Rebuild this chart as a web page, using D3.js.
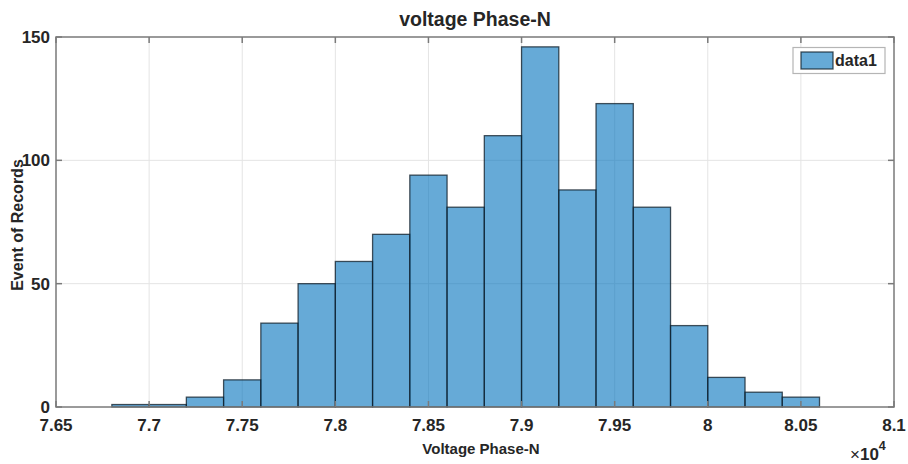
<!DOCTYPE html>
<html lang="en">
<head>
  <meta charset="UTF-8">
  <title>voltage Phase-N</title>
  <script src="https://d3js.org/d3.v7.min.js"></script>
  <style>
    body {
      margin: 0;
      background: white;
      font-family: "Liberation Sans", Arial, Helvetica, sans-serif;
    }
    svg text {
      fill: #262626;
      font-weight: bold;
    }
  </style>
</head>
<body>
<svg width="908" height="464"></svg>

<script>
  // histogram bins (values shown in units of 10^4)
  const binStarts = [7.68, 7.70, 7.72, 7.74, 7.76, 7.78, 7.80, 7.82, 7.84, 7.86,
                     7.88, 7.90, 7.92, 7.94, 7.96, 7.98, 8.00, 8.02, 8.04];
  const binEnds   = [7.70, 7.72, 7.74, 7.76, 7.78, 7.80, 7.82, 7.84, 7.86, 7.88,
                     7.90, 7.92, 7.94, 7.96, 7.98, 8.00, 8.02, 8.04, 8.06];
  const counts    = [1, 1, 4, 11, 34, 50, 59, 70, 94, 81,
                     110, 146, 88, 123, 81, 33, 12, 6, 4];

  const xTicks = [7.65, 7.7, 7.75, 7.8, 7.85, 7.9, 7.95, 8, 8.05, 8.1];
  const xTickLabels = ["7.65", "7.7", "7.75", "7.8", "7.85", "7.9", "7.95", "8", "8.05", "8.1"];
  const yTicks = [0, 50, 100, 150];
  const yTickLabels = ["0", "50", "100", "150"];

  const bins = binStarts.map((s, i) => ({ x0: s, x1: binEnds[i], count: counts[i] }));

  const svg = d3.select("svg");
  const plotLeft = 56, plotRight = 894, plotTop = 37, plotBottom = 407;

  const x = d3.scaleLinear().domain([7.65, 8.1]).range([plotLeft, plotRight]);
  const y = d3.scaleLinear().domain([0, 150]).range([plotBottom, plotTop]);

  const tickLen = 6;
  const barColor = "#0072BD";

  // grid
  const grid = svg.append("g").attr("stroke", "#e4e4e4").attr("stroke-width", 1);
  grid.selectAll(".gx").data(xTicks.slice(1, -1)).enter().append("line")
    .attr("x1", d => x(d)).attr("x2", d => x(d))
    .attr("y1", plotTop).attr("y2", plotBottom);
  grid.selectAll(".gy").data(yTicks.slice(1, -1)).enter().append("line")
    .attr("x1", plotLeft).attr("x2", plotRight)
    .attr("y1", d => y(d)).attr("y2", d => y(d));

  // bars
  svg.append("g").selectAll("rect").data(bins).enter().append("rect")
    .attr("x", d => x(d.x0))
    .attr("width", d => x(d.x1) - x(d.x0))
    .attr("y", d => y(d.count))
    .attr("height", d => y(0) - y(d.count))
    .attr("fill", barColor)
    .attr("fill-opacity", 0.6)
    .attr("stroke", "#0d1b26")
    .attr("stroke-opacity", 0.75)
    .attr("stroke-width", 1.3);

  // axes box + ticks
  const axisG = svg.append("g").attr("stroke", "#7a7a7a").attr("stroke-width", 1.5).attr("fill", "none");
  axisG.append("rect")
    .attr("x", plotLeft).attr("y", plotTop)
    .attr("width", plotRight - plotLeft).attr("height", plotBottom - plotTop);

  axisG.selectAll(".tb").data(xTicks).enter().append("line")
    .attr("x1", d => x(d)).attr("x2", d => x(d))
    .attr("y1", plotBottom).attr("y2", plotBottom - tickLen);
  axisG.selectAll(".tt").data(xTicks).enter().append("line")
    .attr("x1", d => x(d)).attr("x2", d => x(d))
    .attr("y1", plotTop).attr("y2", plotTop + tickLen);
  axisG.selectAll(".tl").data(yTicks).enter().append("line")
    .attr("x1", plotLeft).attr("x2", plotLeft + tickLen)
    .attr("y1", d => y(d)).attr("y2", d => y(d));
  axisG.selectAll(".tr").data(yTicks).enter().append("line")
    .attr("x1", plotRight).attr("x2", plotRight - tickLen)
    .attr("y1", d => y(d)).attr("y2", d => y(d));

  // tick labels
  svg.append("g").selectAll("text").data(xTicks).enter().append("text")
    .attr("x", d => x(d))
    .attr("y", 431)
    .attr("text-anchor", "middle")
    .style("font-size", "17px")
    .text((d, i) => xTickLabels[i]);

  svg.append("g").selectAll("text").data(yTicks).enter().append("text")
    .attr("x", 50)
    .attr("y", d => y(d) + 6)
    .attr("text-anchor", "end")
    .style("font-size", "17px")
    .text((d, i) => yTickLabels[i]);

  // exponent
  const expo = svg.append("text")
    .attr("x", 850)
    .attr("y", 459.5)
    .style("font-size", "17px");
  expo.append("tspan").style("font-weight", "normal").text("×");
  expo.append("tspan").text("10");
  expo.append("tspan").attr("dy", -10).style("font-size", "12.5px").text("4");

  // title and axis labels
  svg.append("text")
    .attr("x", (plotLeft + plotRight) / 2)
    .attr("y", 26)
    .attr("text-anchor", "middle")
    .style("font-size", "19.5px")
    .text("voltage Phase-N");

  svg.append("text")
    .attr("x", 481)
    .attr("y", 454)
    .attr("text-anchor", "middle")
    .style("font-size", "15px")
    .text("Voltage Phase-N");

  svg.append("text")
    .attr("transform", `translate(23, ${(plotTop + plotBottom) / 2 + 3}) rotate(-90)`)
    .attr("text-anchor", "middle")
    .style("font-size", "16px")
    .text("Event of Records");

  // legend
  const legend = svg.append("g");
  legend.append("rect")
    .attr("x", 793).attr("y", 47.5)
    .attr("width", 92).attr("height", 26)
    .attr("fill", "white")
    .attr("stroke", "#b5b5b5")
    .attr("stroke-width", 1.2);
  legend.append("rect")
    .attr("x", 801).attr("y", 52)
    .attr("width", 32).attr("height", 17)
    .attr("fill", barColor)
    .attr("fill-opacity", 0.6)
    .attr("stroke", "#0d1b26")
    .attr("stroke-opacity", 0.75)
    .attr("stroke-width", 1.3);
  legend.append("text")
    .attr("x", 835)
    .attr("y", 66)
    .style("font-size", "16px")
    .text("data1");
</script>

</body>
</html>
